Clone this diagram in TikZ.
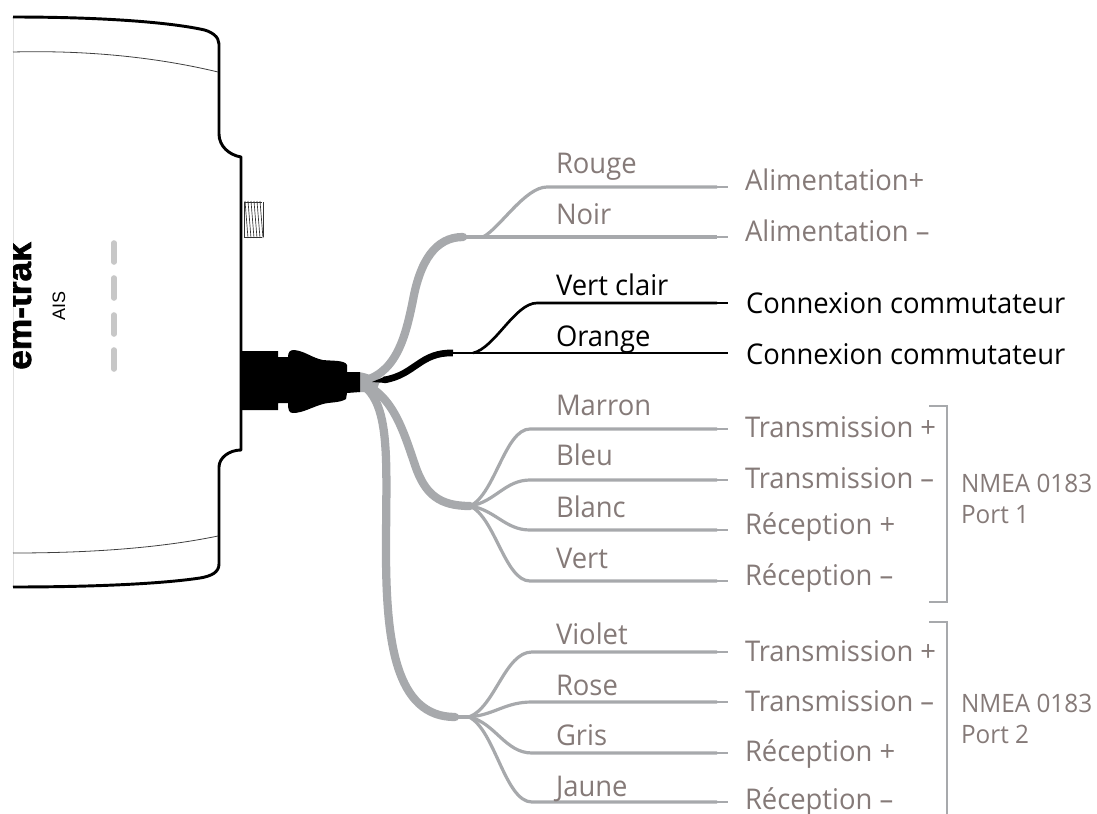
\documentclass[tikz,border=0pt]{standalone}
\usepackage{fontspec}
\setmainfont[FakeStretch=0.96]{Open Sans}
\newfontfamily\devfont{Liberation Sans}
\newfontfamily\brandfont[FakeBold=1.6]{Liberation Sans Bold}
\definecolor{wiregray}{HTML}{A7A9AC}
\definecolor{labelgray}{HTML}{857A78}
\tikzset{
  lab/.style={anchor=base west,inner sep=0pt,outer sep=0pt,yshift=-0.75pt,font=\fontsize{21.4}{25}\selectfont,text=labelgray},
  labk/.style={lab,text=black},
  port/.style={anchor=base west,inner sep=0pt,outer sep=0pt,font=\fontsize{19}{22}\selectfont,text=labelgray},
  wire/.style={draw=wiregray,line width=2.4pt,line join=round},
  wirek/.style={draw=black,line width=2pt,line join=round},
  tail/.style={draw=wiregray,line width=0.8pt},
  tailk/.style={draw=black,line width=0.8pt},
  trunk/.style={draw=wiregray,line width=6.2pt,line cap=round},
  trunkk/.style={draw=black,line width=5pt,line cap=butt},
  body/.style={draw=black,line width=2.2pt,line join=round},
  seam/.style={draw=black!75,line width=0.6pt},
  led/.style={draw=black!22,line width=4.2pt,line cap=round},
  bracket/.style={draw=wiregray,line width=1.1pt}
}
\begin{document}
\begin{tikzpicture}[x=0.75pt,y=-0.75pt]
\useasboundingbox (0,0) rectangle (1097,814);
% device
\draw[draw=black!12,line width=0.6pt] (13,17) -- (13,587);
\draw[body] (13,17) .. controls (90,17) and (160,21) .. (200,29) .. controls (212,31) and (219,37) .. (219,44)
  -- (219,134) .. controls (219,146) and (229,155) .. (241,157)
  -- (241,450) .. controls (229,450) and (219,458) .. (219,467)
  -- (219,564) .. controls (219,572) and (212,576) .. (200,578) .. controls (160,584) and (90,587) .. (13,587);
\draw[seam] (13,52) .. controls (90,50) and (160,58) .. (218,72);
\draw[seam] (13,553) .. controls (90,553) and (160,548) .. (218,536);
% antenna thread
\draw[black!80,line width=0.5pt] (244,202) -- (262,202) (244,237) -- (262,237) (244,202) -- (244,237) (263,202) -- (263,237);
\foreach \tx in {245,248,...,260}{\draw[black!80,line width=0.5pt] (\tx,201) -- (\tx+3,238);}
% LEDs
\draw[led] (114,243) -- (114,262);
\draw[led] (114,278) -- (114,298);
\draw[led] (114,315) -- (114,334);
\draw[led] (114,350) -- (114,369);
\begin{scope}
\clip (13,200) rectangle (60,400);
\node[rotate=90,anchor=base,inner sep=0pt] (brand) at (31,306) {\brandfont\fontsize{26.5}{30}\selectfont em-trak};
\end{scope}
\node[rotate=90,anchor=base,inner sep=0pt] (ais) at (65,306) {\devfont\fontsize{13.5}{16}\selectfont AIS};
% hubs and wire ends
\coordinate (hub) at (358,382);
\coordinate (hubA) at (483,237);
\coordinate (hubB) at (473,353);
\coordinate (hubC) at (470,506);
\coordinate (hubD) at (469,717);
% trunks
\fill[wiregray] (358,372) .. controls (368,373) and (374,377) .. (380,381) -- (376,392) -- (358,392) -- cycle;
\draw[trunk] (hub) .. controls (395,376) and (405,340) .. (413,300) .. controls (420,262) and (435,237) .. (463,237);
\draw[trunk] (hub) .. controls (392,392) and (403,430) .. (415,465) .. controls (425,495) and (440,506) .. (hubC);
\draw[trunk] (hub) .. controls (392,400) and (386,460) .. (386,550) .. controls (386,640) and (395,717) .. (455,717);
\draw[wire,line width=3pt] (455,717) -- (hubD);
\draw[trunkk] (384,380) .. controls (415,375) and (420,352) .. (453,353);
\fill[black] (372,382) -- (385,376.5) -- (386,383) -- cycle;
% upper pair
\draw[wire] (463,237) -- (717,237);
\draw[wire] (hubA) .. controls (500,228) and (525,187) .. (547,187) -- (717,187);
% black pair
\draw[wirek] (450,353) -- (717,353);
\draw[wirek] (hubB) .. controls (495,348) and (515,303) .. (537,303) -- (717,303);
% fan groups
\foreach \y in {429,480,530,581}{
  \draw[wire] (hubC) .. controls (495,{506+(\y-506)*0.15}) and (505,\y) .. (530,\y) -- (717,\y);
  \draw[tail] (717,\y) -- (728,\y);
}
\foreach \y in {652,702,753,802}{
  \draw[wire] (hubD) .. controls (495,{717+(\y-717)*0.15}) and (505,\y) .. (532,\y) -- (717,\y);
  \draw[tail] (717,\y) -- (728,\y);
}
\draw[tail] (717,187) -- (728,187);
\draw[tail] (717,237) -- (728,237);
\draw[tailk] (717,303) -- (728,303);
\draw[tailk] (717,353) -- (728,353);
% connector body
\fill[black] (241,351) -- (278,351) -- (278,357) -- (288,357) .. controls (288,352) and (290,350) .. (294,350)
  .. controls (305,351) and (312,358) .. (323,360) .. controls (332,361) and (345,360) .. (347,365)
  -- (347,372) -- (360,372) -- (360,392) -- (347,393) -- (346,399) .. controls (340,403) and (330,402) .. (323,404)
  .. controls (312,407) and (303,413) .. (293,413) .. controls (289,413) and (288,410) .. (288,403)
  -- (278,403) -- (278,410) -- (241,410) -- cycle;
% brackets
\draw[bracket] (929,406) -- (947,406) -- (947,602) -- (929,602);
\draw[bracket] (929,622) -- (947,622) -- (947,814);
% labels
\node[lab] (rouge) at (556,172) {Rouge};
\node[lab] (noir) at (556,223) {Noir};
\node[labk] (vertc) at (556,294) {Vert clair};
\node[labk] (orange) at (556,345) {Orange};
\node[lab] (marron) at (556,414) {Marron};
\node[lab] (bleu) at (556,464) {Bleu};
\node[lab] (blanc) at (556,516) {Blanc};
\node[lab] (vert) at (556,567) {Vert};
\node[lab] (violet) at (556,643) {Violet};
\node[lab] (rose) at (556,694) {Rose};
\node[lab] (gris) at (556,744) {Gris};
\node[lab] (jaune) at (556,795) {Jaune};
\node[lab] (a1) at (745,189) {Alimentation+};
\node[lab] (a2) at (745,240) {Alimentation –};
\node[labk] (c1) at (746,312) {Connexion commutateur};
\node[labk] (c2) at (746,363) {Connexion commutateur};
\node[lab] (t1) at (745,436) {Transmission +};
\node[lab] (t2) at (745,487) {Transmission –};
\node[lab] (r1) at (745,533) {Réception +};
\node[lab] (r2) at (745,584) {Réception –};
\node[lab] (t3) at (745,660) {Transmission +};
\node[lab] (t4) at (745,710) {Transmission –};
\node[lab] (r3) at (745,760) {Réception +};
\node[lab] (r4) at (745,808) {Réception –};
\node[port] (n1) at (961,492) {NMEA 0183};
\node[port] (p1) at (961,523) {Port 1};
\node[port] (n2) at (961,712) {NMEA 0183};
\node[port] (p2) at (961,743) {Port 2};
\end{tikzpicture}
\end{document}
